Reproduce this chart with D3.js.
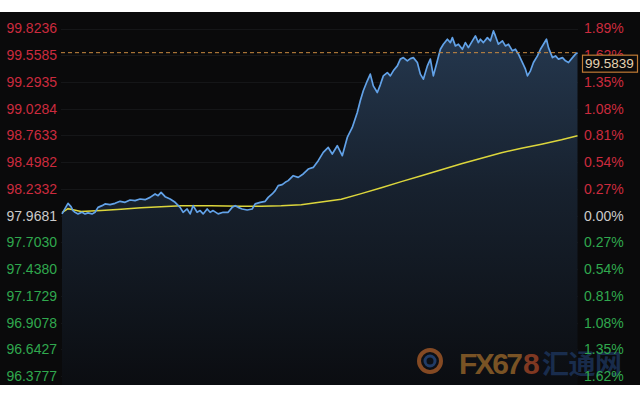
<!DOCTYPE html>
<html>
<head>
<meta charset="utf-8">
<script src="https://cdn.jsdelivr.net/npm/d3@7"></script>
<style>
html,body{margin:0;padding:0;background:#fff;}
svg{display:block;}
</style>
</head>
<body>
<svg id="chart" width="640" height="400"></svg>
<script>
// ---- data ----
const times = [1,7,10,12,14,17,21,24,27,31,34,37,41,44,49,54,59,64,69,74,79,84,89,94,97,100,104,109,114,119,122,126,129,132,136,139,142,146,149,152,157,162,167,171,174,177,181,186,191,194,199,204,207,211,214,217,221,224,227,232,237,242,247,252,257,262,267,271,276,281,286,291,296,299,302,306,309,312,316,319,322,326,329,332,336,339,342,346,349,352,356,359,362,366,369,372,376,379,382,386,389,391,394,397,401,404,407,411,414,417,419,422,426,429,432,434,437,441,444,447,451,454,457,461,464,466,469,472,476,479,482,485,487,491,494,497,501,504,507,511,514,516];
const prices = [97.985,98.090,98.057,98.018,98.001,97.985,98.001,97.985,97.995,97.985,98.001,98.050,98.067,98.084,98.077,98.090,98.110,98.100,98.123,98.117,98.133,98.126,98.149,98.183,98.166,98.199,98.156,98.133,98.100,98.050,98.001,98.034,97.985,98.067,98.001,98.018,97.985,98.034,98.001,98.018,97.985,98.001,98.001,98.050,98.067,98.050,98.034,98.024,98.034,98.084,98.100,98.110,98.149,98.183,98.216,98.265,98.275,98.298,98.315,98.364,98.347,98.381,98.430,98.446,98.513,98.595,98.644,98.579,98.661,98.562,98.743,98.842,98.991,99.107,99.206,99.305,99.371,99.255,99.189,99.265,99.354,99.387,99.354,99.404,99.453,99.520,99.535,99.503,99.525,99.535,99.486,99.371,99.321,99.453,99.520,99.354,99.503,99.618,99.668,99.717,99.684,99.733,99.651,99.668,99.618,99.684,99.634,99.701,99.750,99.684,99.717,99.684,99.733,99.701,99.800,99.750,99.668,99.701,99.651,99.668,99.602,99.618,99.569,99.486,99.420,99.354,99.404,99.486,99.552,99.618,99.668,99.717,99.634,99.535,99.552,99.520,99.535,99.503,99.486,99.535,99.569,99.5839];
const maTimes = [1,7,12,20,40,60,80,100,120,150,180,200,220,240,260,280,300,320,340,360,380,400,420,440,460,480,500,516];
const maValues = [97.998,98.037,98.027,98.008,98.018,98.032,98.047,98.057,98.067,98.067,98.062,98.062,98.067,98.077,98.102,98.131,98.186,98.245,98.305,98.364,98.423,98.483,98.537,98.592,98.636,98.676,98.720,98.760];
const leftTicks = [99.8236,99.5585,99.2935,99.0284,98.7633,98.4982,98.2332,97.9681,97.7030,97.4380,97.1729,96.9078,96.6427,96.3777];
const rightTickLabels = ["1.89%","1.62%","1.35%","1.08%","0.81%","0.54%","0.27%","0.00%","0.27%","0.54%","0.81%","1.08%","1.35%","1.62%"];
const baseValue = 97.9681;
const lastValue = 99.5839;

// ---- drawing ----
const svg = d3.select("#chart");
const W = 640, H = 400;
const plot = {left: 61, right: 578, top: 12, bottom: 385};

svg.append("rect").attr("x",0).attr("y",0).attr("width",W).attr("height",H).attr("fill","#ffffff");
svg.append("rect").attr("x",0).attr("y",plot.top).attr("width",W).attr("height",plot.bottom-plot.top).attr("fill","#0a0a0b");

const x = d3.scaleLinear().domain([0,516]).range([plot.left, 577.5]);
const y = d3.scaleLinear().domain([96.3777, 99.8236]).range([376, 28.5]);

const RED = "#cc2b3e", GREEN = "#30a84e", WHITE = "#cacaca";

// faint grid
svg.append("g").selectAll("line").data(leftTicks).join("line")
  .attr("x1", plot.left).attr("x2", plot.right)
  .attr("y1", d => Math.round(y(d))+0.5).attr("y2", d => Math.round(y(d))+0.5)
  .attr("stroke", "#151618").attr("stroke-width", 1);

// gradient
const defs = svg.append("defs");
const grad = defs.append("linearGradient").attr("id","areaGrad")
  .attr("gradientUnits","userSpaceOnUse").attr("x1",0).attr("y1",30).attr("x2",0).attr("y2",plot.bottom);
grad.append("stop").attr("offset","0%").attr("stop-color","#25384f");
grad.append("stop").attr("offset","45%").attr("stop-color","#17212e");
grad.append("stop").attr("offset","100%").attr("stop-color","#0b0d11");

const pts = times.map((t,i) => ({t, v: prices[i]}));
const area = d3.area().x(d => x(d.t)).y0(plot.bottom).y1(d => y(d.v));
svg.append("path").datum(pts).attr("d", area).attr("fill","url(#areaGrad)");

// watermark
const wm = svg.append("g").attr("opacity",0.7);
wm.append("circle").attr("cx",430).attr("cy",361).attr("r",11).attr("fill","none").attr("stroke","#b8632a").attr("stroke-width",4);
wm.append("circle").attr("cx",430).attr("cy",361).attr("r",5).attr("fill","none").attr("stroke","#2a4f8a").attr("stroke-width",3);
wm.append("text").attr("x",459).attr("y",374).attr("font-family","Liberation Sans, Arial, sans-serif")
  .attr("font-weight","bold").attr("font-size",30).attr("fill","#a8702c").attr("textLength",64).text("FX67");
wm.append("text").attr("x",523).attr("y",374).attr("font-family","Liberation Sans, Arial, sans-serif")
  .attr("font-weight","bold").attr("font-size",30).attr("fill","#b04a28").text("8");
wm.append("text").attr("x",542).attr("y",374).attr("font-family","Noto Sans CJK SC, sans-serif")
  .attr("font-weight","bold").attr("font-size",27).attr("fill","#1f3a66").attr("textLength",80).text("汇通网");

// MA line
const maPts = maTimes.map((t,i) => ({t, v: maValues[i]}));
svg.append("path").datum(maPts)
  .attr("d", d3.line().x(d => x(d.t)).y(d => y(d.v)))
  .attr("fill","none").attr("stroke","#dcd63c").attr("stroke-width",1.5);

// price line
svg.append("path").datum(pts)
  .attr("d", d3.line().x(d => x(d.t)).y(d => y(d.v)))
  .attr("fill","none").attr("stroke","#62a2e8").attr("stroke-width",1.7).attr("stroke-linejoin","round");

// current price dashed line
svg.append("line").attr("x1",plot.left).attr("x2",plot.right)
  .attr("y1",y(lastValue)).attr("y2",y(lastValue))
  .attr("stroke","#c98a40").attr("stroke-width",1).attr("stroke-dasharray","4,3");

// left axis
const font = "Liberation Sans, Arial, sans-serif";
const colorFor = v => Math.abs(v-baseValue) < 1e-6 ? WHITE : (v > baseValue ? RED : GREEN);
const leftAxis = d3.axisLeft(y).tickValues(leftTicks).tickSize(0).tickPadding(0).tickFormat(d3.format(".4f"));
const gl = svg.append("g").attr("transform","translate(57,0)").call(leftAxis);
gl.select(".domain").remove();
gl.selectAll("text").attr("font-family",font).attr("font-size",14)
  .attr("fill", d => colorFor(d));

// right axis
const rightAxis = d3.axisRight(y).tickValues(leftTicks).tickSize(0).tickPadding(0)
  .tickFormat((d,i) => rightTickLabels[i]);
const gr = svg.append("g").attr("transform","translate(584,0)").call(rightAxis);
gr.select(".domain").remove();
gr.selectAll("text").attr("font-family",font).attr("font-size",14)
  .attr("fill", d => colorFor(d));

// last value box
const by = y(lastValue) + 2;
svg.append("rect").attr("x",582.5).attr("y",by+0.5).attr("width",55).attr("height",17)
  .attr("fill","#0a0a0b").attr("stroke","#c07a34").attr("stroke-width",1.2);
svg.append("text").attr("x",585).attr("y",by+13.5).attr("font-family",font).attr("font-size",13.5)
  .attr("fill","#e6d2b0").text(d3.format(".4f")(lastValue));
</script>
</body>
</html>
